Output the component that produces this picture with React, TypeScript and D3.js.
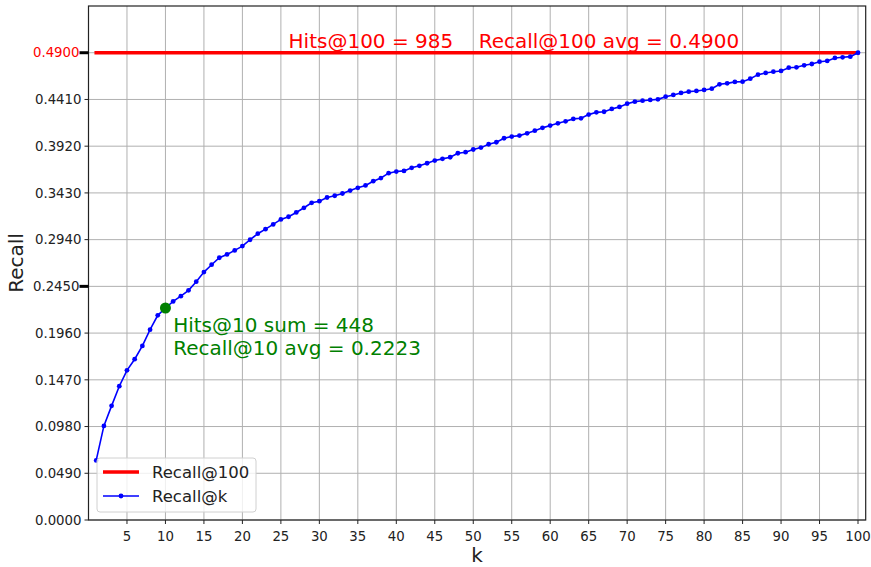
import React from "react";
import * as d3 from "d3";

// Recall@k for k = 1..100
const recallAtK: number[] = [
  0.0625, 0.0987, 0.1197, 0.1403, 0.157, 0.1686, 0.1825, 0.1996, 0.2146, 0.2223,
  0.2292, 0.2347, 0.2408, 0.2499, 0.26, 0.2677, 0.275, 0.2785, 0.2827, 0.2872,
  0.2939, 0.3002, 0.305, 0.31, 0.3152, 0.318, 0.3225, 0.3274, 0.3326, 0.3343,
  0.3382, 0.34, 0.3424, 0.3455, 0.3483, 0.3508, 0.3553, 0.3586, 0.3637, 0.3654,
  0.3661, 0.3693, 0.3714, 0.3741, 0.3769, 0.3787, 0.3804, 0.3846, 0.3857, 0.3885,
  0.3905, 0.394, 0.3961, 0.4003, 0.4021, 0.4031, 0.4055, 0.4083, 0.4112, 0.4136,
  0.416, 0.4181, 0.4206, 0.4212, 0.4251, 0.4275, 0.4281, 0.4311, 0.4332, 0.4366,
  0.4387, 0.4397, 0.4405, 0.4411, 0.4439, 0.4457, 0.4478, 0.4492, 0.4499, 0.451,
  0.4523, 0.4569, 0.4579, 0.4594, 0.4596, 0.4628, 0.467, 0.4688, 0.4701, 0.4709,
  0.4743, 0.4747, 0.4768, 0.4782, 0.4806, 0.4814, 0.4845, 0.4852, 0.4859, 0.49,
];
const kValues: number[] = recallAtK.map((_, i) => i + 1);

const xTicks: number[] = [5, 10, 15, 20, 25, 30, 35, 40, 45, 50, 55, 60, 65, 70, 75, 80, 85, 90, 95, 100];
const yTicks: number[] = [0, 0.049, 0.098, 0.147, 0.196, 0.245, 0.294, 0.343, 0.392, 0.441, 0.49];
const emphasisTicks: number[] = [0.245, 0.49];

const recallAt100 = 0.49;
const hitsAt100 = 985;
const focusK = 10;
const recallAt10 = 0.2223;
const hitsAt10 = 448;

const W = 871;
const H = 567;
const FONT = "'DejaVu Sans', sans-serif";

export default function App() {
  const x = d3.scaleLinear().domain([0, 101]).range([88.5, 865.7]);
  const y = d3.scaleLinear().domain([0, 0.539]).range([520, 6]);
  const [x0, x1] = x.range();
  const [yb, yt] = y.range();

  const line = d3
    .line<number>()
    .x((_, i) => x(kValues[i]))
    .y((d) => y(d));

  return (
    <svg
      width={W}
      height={H}
      style={{ position: "fixed", left: 0, top: 0, background: "#fff" }}
      fontFamily={FONT}
    >
      <rect x={0} y={0} width={W} height={H} fill="#fff" />
      {/* grid */}
      <g stroke="#b0b0b0" strokeWidth={1}>
        {xTicks.map((t) => (
          <line key={"gx" + t} x1={x(t)} x2={x(t)} y1={yb} y2={yt} />
        ))}
        {yTicks.map((t) => (
          <line key={"gy" + t} x1={x0} x2={x1} y1={y(t)} y2={y(t)} />
        ))}
      </g>

      {/* Recall@100 reference line */}
      <line
        x1={x(1)}
        x2={x(100)}
        y1={y(recallAt100)}
        y2={y(recallAt100)}
        stroke="#ff0000"
        strokeWidth={3.5}
        strokeLinecap="square"
      />
      <text
        x={x(26)}
        y={y(recallAt100) - 5}
        fontSize={20}
        fill="#ff0000"
        style={{ whiteSpace: "pre" }}
      >
        {`Hits@100 = ${hitsAt100}    Recall@100 avg = ${recallAt100.toFixed(4)}`}
      </text>

      {/* Recall@k curve */}
      <path d={line(recallAtK) || ""} fill="none" stroke="#0000ff" strokeWidth={1.6} />
      <g fill="#0000ff">
        {recallAtK.map((v, i) => (
          <circle key={"m" + i} cx={x(kValues[i])} cy={y(v)} r={2.4} />
        ))}
      </g>

      {/* Recall@10 highlight */}
      <circle cx={x(focusK)} cy={y(recallAt10)} r={5.5} fill="#008000" />
      <text x={x(focusK + 1)} y={y(recallAt10) + 24} fontSize={20} fill="#008000">
        {`Hits@10 sum = ${hitsAt10}`}
      </text>
      <text x={x(focusK + 1)} y={y(recallAt10) + 47} fontSize={20} fill="#008000">
        {`Recall@10 avg = ${recallAt10.toFixed(4)}`}
      </text>

      {/* axes frame */}
      <rect x={x0} y={yt} width={x1 - x0} height={yb - yt} fill="none" stroke="#222" strokeWidth={1.2} />

      {/* x ticks */}
      <g>
        {xTicks.map((t) => (
          <g key={"xt" + t}>
            <line x1={x(t)} x2={x(t)} y1={yb} y2={yb + 4} stroke="#222" strokeWidth={1} />
            <text x={x(t)} y={yb + 21} fontSize={13.3} textAnchor="middle" fill="#222">
              {t}
            </text>
          </g>
        ))}
      </g>

      {/* y ticks */}
      <g>
        {yTicks.map((t) => {
          const strong = emphasisTicks.includes(t);
          return (
            <g key={"yt" + t}>
              <line
                x1={strong ? x0 - 9 : x0 - 4}
                x2={x0}
                y1={y(t)}
                y2={y(t)}
                stroke={strong ? "#000" : "#222"}
                strokeWidth={strong ? 3 : 1}
              />
              <text
                x={x0 - (strong ? 9 : 7)}
                y={y(t) + 4.7}
                fontSize={13.3}
                textAnchor="end"
                fill={t === recallAt100 ? "#ff0000" : "#222"}
              >
                {t.toFixed(4)}
              </text>
            </g>
          );
        })}
      </g>

      {/* axis labels */}
      <text x={(x0 + x1) / 2} y={562} fontSize={20} textAnchor="middle" fill="#222">
        k
      </text>
      <text
        transform={`translate(23, ${(yb + yt) / 2}) rotate(-90)`}
        fontSize={20}
        textAnchor="middle"
        fill="#222"
      >
        Recall
      </text>

      {/* legend */}
      <g transform="translate(97, 458)">
        <rect x={0} y={0} width={159} height={54} rx={3} fill="#fff" fillOpacity={0.8} stroke="#d0d0d0" />
        <line x1={6} x2={42} y1={14} y2={14} stroke="#ff0000" strokeWidth={3.5} />
        <text x={55} y={20} fontSize={16.5} fill="#222">
          Recall@100
        </text>
        <line x1={6} x2={42} y1={38} y2={38} stroke="#0000ff" strokeWidth={1.6} />
        <circle cx={24} cy={38} r={2.4} fill="#0000ff" />
        <text x={55} y={44} fontSize={16.5} fill="#222">
          Recall@k
        </text>
      </g>
    </svg>
  );
}
